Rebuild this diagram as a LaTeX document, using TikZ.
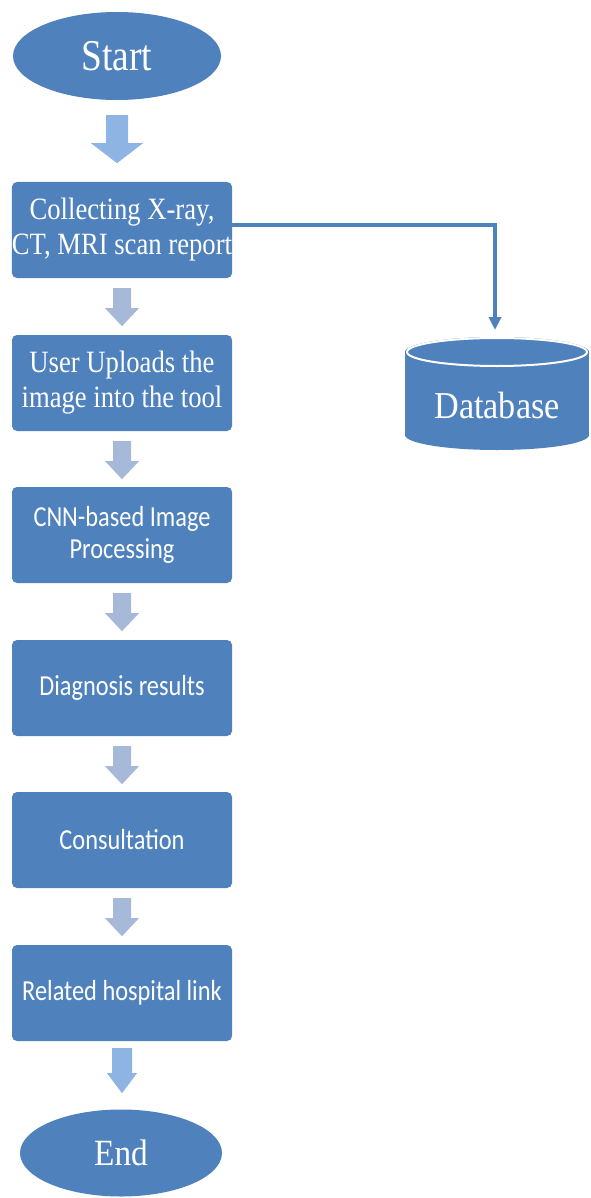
\documentclass[tikz,border=0pt]{standalone}
\usepackage{fontspec}
\setmainfont{Liberation Serif}
\newfontfamily\condserif[FakeStretch=0.86]{Liberation Serif}
\newfontfamily\startserif[FakeStretch=0.85]{Liberation Serif}
\newfontfamily\dbserif[FakeStretch=0.9]{Liberation Serif}
\newfontfamily\condsans[FakeStretch=0.84]{Carlito}
\usetikzlibrary{arrows.meta,calc,shapes.geometric}
\definecolor{boxblue}{HTML}{4F81BD}
\definecolor{lightarrow}{HTML}{8EB4E3}
\definecolor{greyarrow}{HTML}{A7B9D9}
\tikzset{
  stepbox/.style={fill=boxblue, rounded corners=5pt, minimum width=220pt,
    minimum height=96pt, text=white, align=center, inner sep=0pt},
  terminal/.style={ellipse, fill=boxblue, text=white, inner sep=0pt},
  serifbox/.style={font=\condserif\fontsize{31}{35}\selectfont},
  sansbox/.style={font=\condsans\fontsize{29}{32}\selectfont},
  conn/.style={draw=boxblue, line width=4pt, -{Triangle[width=12pt,length=13pt]}},
  bigarrow/.pic={\fill[lightarrow] (-11,0) -- (11,0) -- (11,28) -- (26,28) -- (0,48) -- (-26,28) -- (-11,28) -- cycle;},
  smallarrow/.pic={\fill[greyarrow] (-9,0) -- (9,0) -- (9,20) -- (17,20) -- (0,38) -- (-17,20) -- (-9,20) -- cycle;},
  endarrow/.pic={\fill[lightarrow] (-10,0) -- (10,0) -- (10,25) -- (15,25) -- (0,45) -- (-15,25) -- (-10,25) -- cycle;},
}
\begin{document}
\begin{tikzpicture}[x=1pt,y=-1pt]
\useasboundingbox (0,0) rectangle (590,1198);
% terminals
\node[terminal, minimum width=208pt, minimum height=88pt,
  font=\startserif\fontsize{44}{48}\selectfont] (start) at (117,56) {Start};
\node[terminal, minimum width=202pt, minimum height=87pt,
  font=\dbserif\fontsize{37}{42}\selectfont] (end) at (121,1153) {End};
% process boxes
\node[stepbox, serifbox] (b1) at (122,230) {Collecting X-ray,\\CT, MRI scan report};
\node[stepbox, serifbox] (b2) at (122,383) {User Uploads the\\image into the tool};
\node[stepbox, sansbox] (b3) at (122,535) {CNN-based Image\\Processing};
\node[stepbox, sansbox] (b4) at (122,688) {Diagnosis results};
\node[stepbox, sansbox] (b5) at (122,840) {Consultation};
\node[stepbox, sansbox] (b6) at (122,993) {Related hospital link};
% block arrows
\pic at ($(start.south)+(0,15)$) {bigarrow};
\pic at ($(b1.south)+(0,10)$) {smallarrow};
\pic at ($(b2.south)+(0,10)$) {smallarrow};
\pic at ($(b3.south)+(0,10)$) {smallarrow};
\pic at ($(b4.south)+(0,10)$) {smallarrow};
\pic at ($(b5.south)+(0,10)$) {smallarrow};
\pic at ($(b6.south)+(0,7)$) {endarrow};
% database cylinder
\fill[boxblue] (497,435) ellipse [x radius=92, y radius=15];
\fill[boxblue] (405,352) rectangle (589,435);
\fill[boxblue] (497,352) ellipse [x radius=92, y radius=15];
\draw[white, line width=2pt] (497,352) ellipse [x radius=90, y radius=14];
\coordinate (dbtop) at (495,337);
\node[text=white, font=\dbserif\fontsize{38}{42}\selectfont] (db) at (497,405) {Database};
% connector
\draw[conn, shorten >=7pt] ($(b1.east)+(0,-5)$) -| (dbtop);
\end{tikzpicture}
\end{document}
